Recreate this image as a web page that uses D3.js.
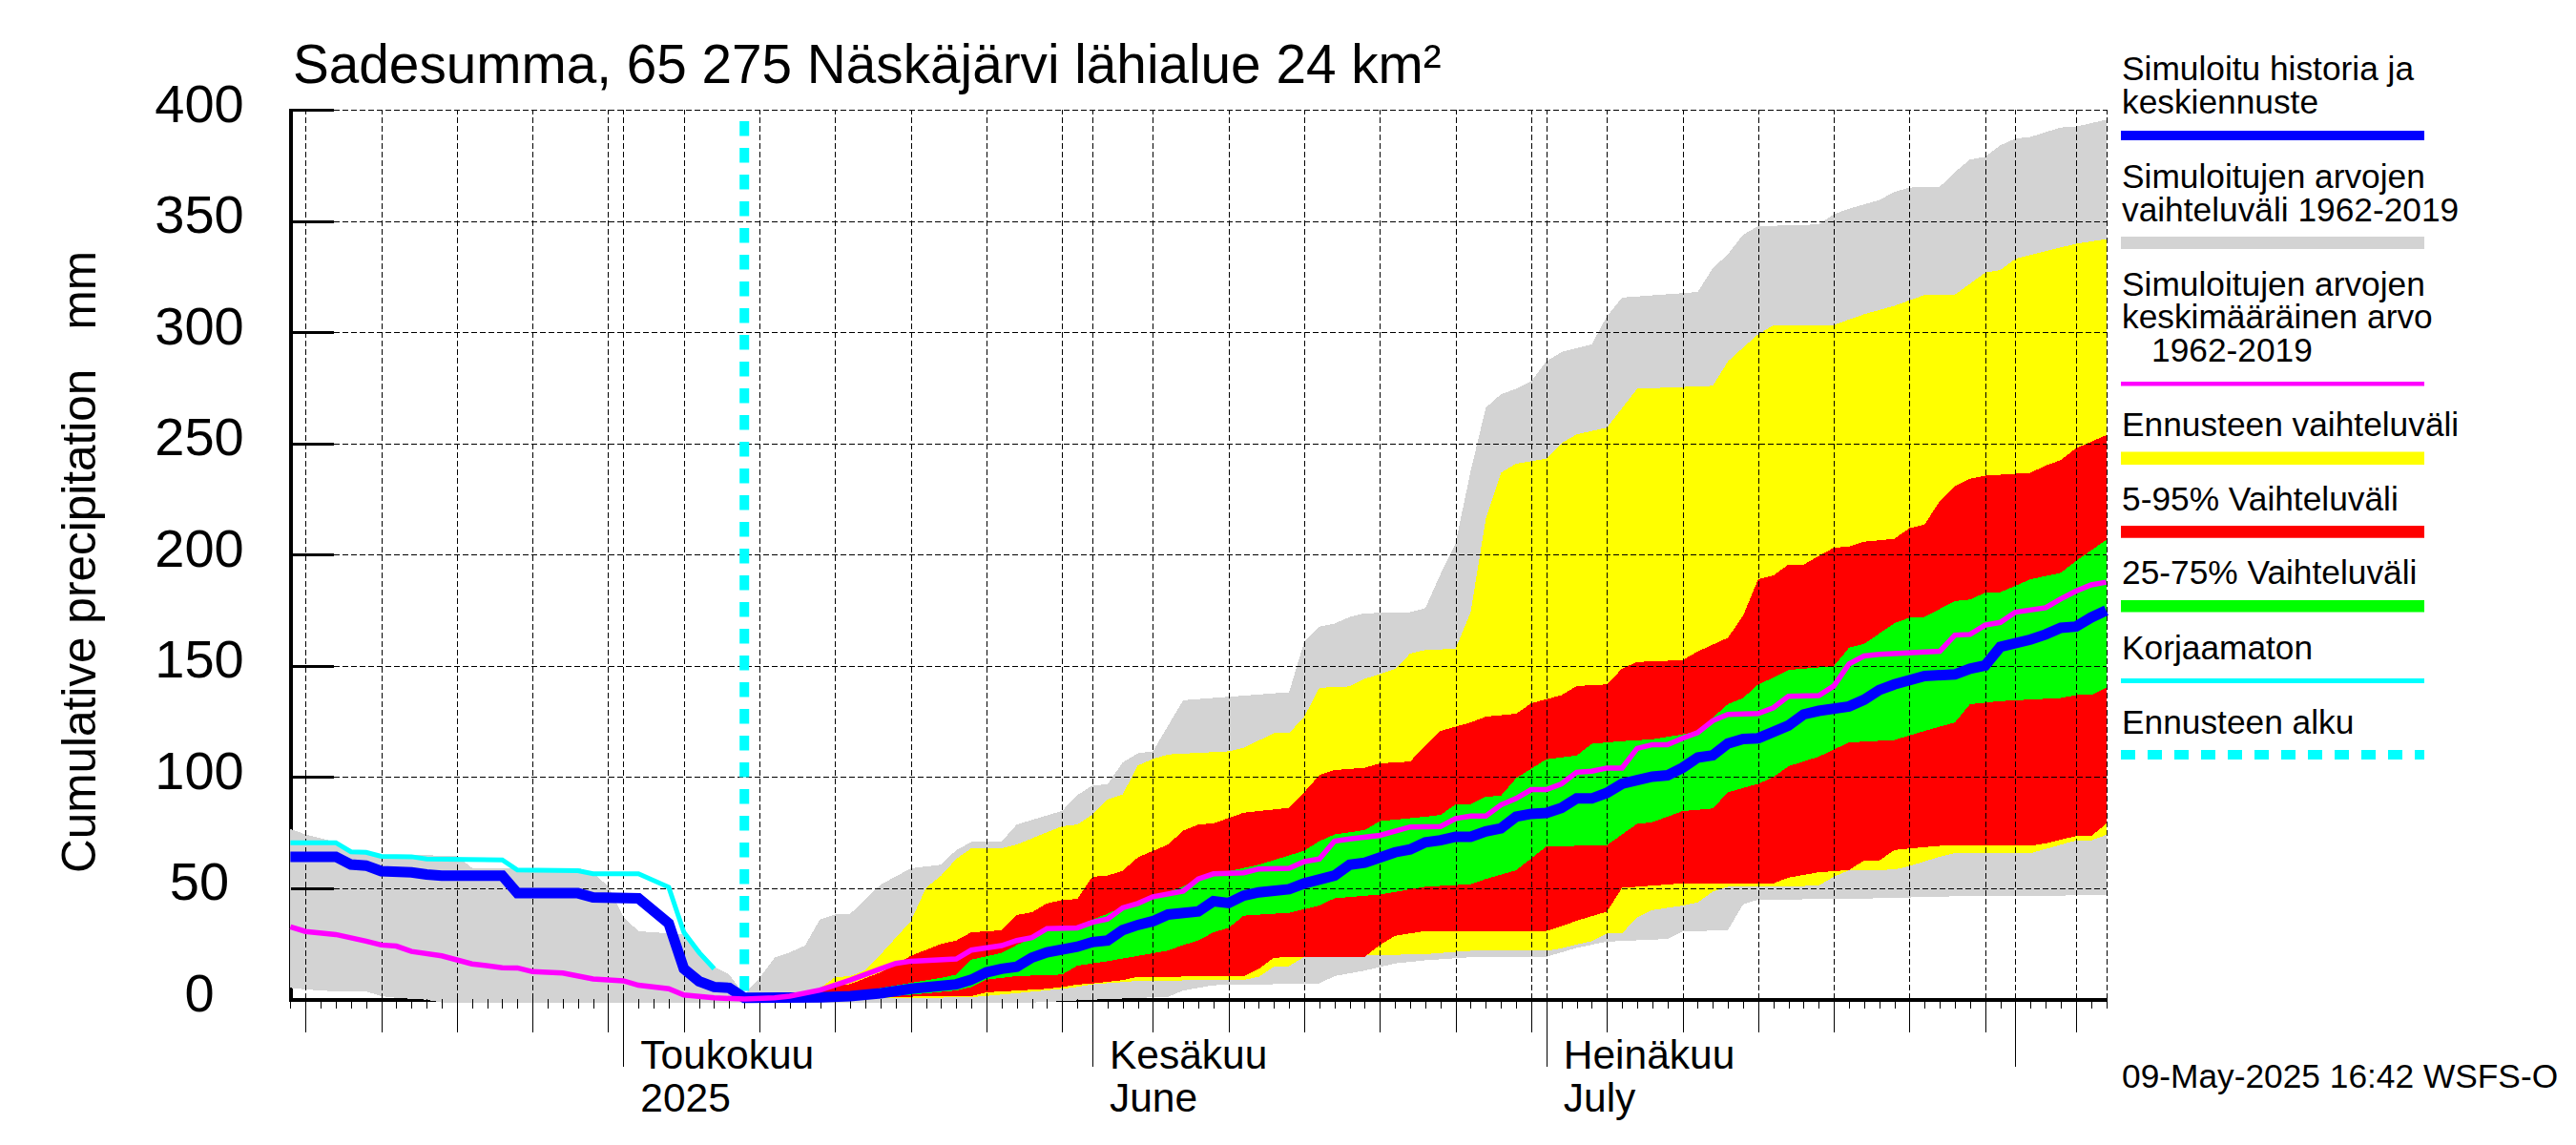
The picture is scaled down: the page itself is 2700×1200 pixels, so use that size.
<!DOCTYPE html>
<html>
<head>
<meta charset="utf-8">
<script src="https://cdn.jsdelivr.net/npm/d3@7"></script>
<style>
	html, body { margin: 0; padding: 0; background: #fff; }
	svg { display: block; }
	text { font-family: "Liberation Sans", Arial, sans-serif; fill: #000; }
</style>
</head>
<body>
<div></div>
<script>
// All series are [day, mm], day = days since startDate
const startDate = new Date(Date.UTC(2025, 3, 9));
const endDay = 120;
const forecastDay = 30;
const yTicks = [0, 50, 100, 150, 200, 250, 300, 350, 400];
const monthDays = [22, 53, 83, 114];
const monthLabels = [['Toukokuu', '2025'], ['Kesäkuu', 'June'], ['Heinäkuu', 'July']];

const greyTop = [[0,76.5],[1,74],[3,70.6],[4,67],[5,66.6],[6,65],[11,64.4],[12,59],[19,59],[20,57],[21,50.6],[22,37],[23,30.5],[26,29],[27,22.7],[28,14.5],[29,11],[30,2],[31,9.5],[32,18.6],[33,21],[34,24],[35,35.8],[36,38],[37,38.3],[38,45],[39,51.4],[41,58.8],[43,60.4],[44,67],[45,70.6],[47,70.8],[48,78.5],[51,84.6],[52,91.7],[53,96],[54,96.6],[55,106.4],[56,110.5],[57,111.4],[59,134.4],[66,138],[67,160.6],[68,167.5],[69,168.9],[70,171.8],[71,173.5],[74,174],[75,175.8],[76,191],[77,205],[78,237.5],[79,266],[80,272],[81,274.5],[82,277.8],[83,286.8],[84,291],[86,294.5],[87,307],[88,315.5],[93,318],[94,328.7],[95,335],[96,343.8],[97,347.6],[101,348.4],[102,353],[103,355.5],[105,359.4],[106,363],[107,365],[109,365.3],[110,372],[111,377.6],[112,378.8],[113,384],[114,387],[115,387.8],[117,392],[118,392.4],[120,395.5]];
const greyBottom = [[0,5],[1,4.3],[3,3.4],[5,3.4],[6,1.3],[7,0.5],[9,-0.3],[10,-1.6],[49,-1.6],[53,-0.3],[58,1],[59,3.8],[61,6.2],[68,7],[69,10.3],[71,12.8],[73,16],[75,17.4],[78,18.8],[83,19],[85,23],[87,25.8],[91,27],[92,30.3],[95,31],[96,42.6],[97,44.7],[103,45],[110,46.2],[120,46.7]];
const yellowTop = [[30,0],[33,1.5],[34,2],[35,5],[36,9.8],[37,10.3],[38,13],[39,20],[41,35],[42,50],[43,55.5],[44,63],[45,67.8],[47,67.8],[48,69.5],[51,77.7],[52,78.5],[53,83],[54,89.7],[55,92],[56,105],[57,108],[58,110],[62,111.4],[63,113],[65,119.6],[66,119.6],[67,127],[68,140],[70,140.6],[71,144],[73,148.4],[74,155.4],[75,157],[77,157.5],[78,174],[79,216],[80,236.7],[81,240.8],[83,243],[84,250],[85,254],[87,257],[89,274.5],[94,275.8],[95,286.8],[96,293],[97,299],[98,303],[102,303.2],[104,308],[106,311.8],[108,316.7],[110,316.8],[112,326.7],[113,327.9],[114,333],[116,336.4],[118,339.7],[120,341.8]];
const yellowBottom = [[30,0],[36,0],[45,0.8],[48,2.6],[51,4.6],[52,5.4],[53,6.6],[55,7.6],[56,8.2],[63,8.6],[64,10],[65,14.5],[66,14.8],[67,19],[75,20.2],[78,21.7],[83,21.7],[84,22.8],[85,24.5],[86,26],[87,29.5],[88,29.5],[89,36.8],[90,40],[91,41],[92,42],[93,43.4],[94,48.3],[95,50.5],[98,50.5],[101,51],[102,55],[103,57.9],[106,58.2],[107,59.8],[109,64],[110,65.6],[115,65.6],[118,71.3],[119,71.3],[120,73.8]];
const redTop = [[30,0],[33,0.7],[34,1.5],[35,3],[36,6],[37,6.7],[39,12],[41,19.4],[43,24.8],[44,26.3],[45,30],[47,30.9],[48,37.8],[49,39],[50,43],[51,44.5],[52,45],[53,55],[54,55.5],[55,57.7],[56,63.7],[58,69.5],[59,75.7],[60,78.5],[61,79],[63,83.8],[66,86],[67,93],[68,100.7],[69,103],[71,104],[72,106],[74,106.8],[75,114],[76,120.6],[78,124.4],[79,127],[81,128.3],[82,133],[84,136.7],[85,140.8],[87,141.5],[88,148.6],[89,151.6],[92,152.4],[93,156.3],[95,162.5],[96,172.4],[97,188.8],[98,190.5],[99,195.4],[100,195.4],[102,203],[103,203.5],[104,205.7],[106,207],[107,211.8],[108,213.4],[109,224],[110,230.7],[111,234],[112,235.4],[115,236.7],[116,240],[117,242.4],[118,247.7],[120,253.6]];
const redBottom = [[30,0],[36,0.3],[40,1],[45,1.3],[46,3],[48,3.8],[50,4.6],[51,5.4],[52,6.5],[53,7],[55,8.5],[56,10],[63,10.2],[64,13.6],[65,18.6],[67,19],[71,19],[72,24.3],[73,28.4],[75,30.6],[83,30.6],[84,32.7],[85,35.2],[87,39.3],[88,50],[92,52],[98,52],[99,54.6],[101,57],[103,58],[104,62.3],[105,62.3],[106,67],[107,67.7],[109,68.9],[115,68.9],[116,70],[118,73.3],[119,73.3],[120,78.8]];
const greenTop = [[30,0],[33,0.5],[37,2.5],[39,5],[43,9.5],[44,11],[45,17.7],[47,20.7],[48,24.3],[49,27.6],[50,32],[52,33],[53,35.8],[54,38.3],[55,41.6],[56,43],[57,45.7],[59,50.6],[60,54],[61,56.3],[62,57.5],[64,60.4],[66,64.6],[67,66.7],[68,71],[69,74],[71,76],[72,80],[75,82],[76,82.8],[77,87.4],[78,87.7],[79,91],[80,91.4],[81,99.3],[83,107.8],[85,109.5],[86,114.8],[88,116],[90,116.8],[92,119],[93,120.6],[95,132.6],[96,135.4],[97,141.5],[98,144.5],[99,148],[102,149.7],[103,158],[104,159.7],[106,169],[107,171.5],[108,171.9],[110,179],[111,179.7],[112,182.7],[113,183],[115,188.8],[117,191.7],[118,197],[120,206.5]];
const greenBottom = [[30,0],[36,0.5],[40,1.3],[44,3.8],[45,5.4],[46,8.7],[48,10.3],[51,11],[52,15],[54,17],[58,21.8],[59,24.3],[60,26.3],[61,30],[62,32],[63,37.5],[66,38.8],[68,42],[69,45.3],[72,47],[75,50.5],[78,51.6],[79,54],[81,57.9],[83,68.6],[87,69.2],[89,78.8],[90,79.5],[91,82],[92,84.5],[94,85.7],[95,93],[97,96.8],[98,99.8],[99,104.7],[101,109],[103,115.4],[106,116.5],[108,120.6],[110,124.4],[111,132.6],[113,134],[117,135.4],[118,136.7],[119,136.7],[120,140]];
const blueLine = [[0,64],[3,64],[4,60.5],[5,60],[6,57.5],[8,57],[9,56],[10,55.5],[14,55.5],[15,47.6],[19,47.6],[20,45.7],[23,45.3],[25,34],[26,13.6],[27,8],[28,5.4],[29,5],[30,0.5],[35,0.8],[37,1.3],[39,2.6],[41,4.6],[44,6.6],[45,8.7],[46,12],[47,13.6],[48,14.5],[49,18.6],[50,21],[52,23.5],[53,25.6],[54,26.3],[55,31],[56,33.3],[57,35],[58,38],[60,39.4],[61,44],[62,43.2],[63,46.5],[64,48],[66,49.4],[67,52],[69,55.5],[70,60.4],[71,61.3],[73,66],[74,67.3],[75,70.5],[76,71.4],[77,73],[78,73],[79,75.4],[80,76.8],[81,82],[82,83.3],[83,83.7],[84,86],[85,90.2],[86,90.2],[87,92.7],[88,96.8],[89,98.4],[90,100],[91,100.6],[92,104],[93,108.6],[94,109.6],[95,114.9],[96,117],[97,117.3],[99,123],[100,128],[101,129.6],[103,131.6],[104,134.6],[105,139],[106,141.5],[108,145.3],[110,146],[111,148.6],[112,150],[113,158.4],[115,161.7],[116,164],[117,167],[118,167.5],[119,171.6],[120,174.8]];
const magentaLine = [[0,32.5],[1,30.4],[3,29],[5,26],[6,24.3],[7,23.8],[8,21.4],[10,19.4],[12,15.8],[14,14.1],[15,14],[16,12.3],[18,11.7],[20,9],[22,8.2],[23,6.2],[25,4.6],[26,1.8],[28,0.5],[30,0],[32,0.5],[33,1.3],[35,4],[37,8.5],[39,13.6],[40,16],[41,17],[44,18],[45,22],[47,24],[48,26.3],[49,27.6],[50,31.7],[52,32],[53,34.5],[54,36],[55,41],[56,43],[57,46],[59,48.5],[60,54],[61,56.3],[63,56.8],[64,58.5],[66,58.8],[67,61.8],[68,63],[69,71],[70,72],[72,73.6],[74,77.4],[76,77.6],[77,81.2],[78,82.3],[79,82.3],[80,87.3],[81,90.2],[82,94.2],[83,94.2],[84,96.8],[85,102],[86,102.5],[87,103.9],[88,103.9],[89,112.7],[90,114.4],[91,114.4],[92,117.3],[93,119.8],[94,125.2],[95,128],[97,128.4],[98,131],[99,136.2],[101,136.5],[102,140.8],[103,150.7],[104,154.3],[105,155],[109,156.4],[110,163.7],[111,164],[112,168.2],[113,169.4],[114,174],[116,176],[117,180],[118,183.5],[119,186.3],[120,187.5]];
const cyanLine = [[0,70.3],[3,70.3],[4,66.2],[5,66],[6,64.2],[8,64],[9,63],[14,62.6],[15,58],[19,57.7],[20,56.3],[23,56.3],[25,50.3],[26,30],[27,21],[28,13.6]];

const legendLabels = ['Simuloitu historia ja', 'keskiennuste', 'Simuloitujen arvojen', 'vaihteluväli 1962-2019', 'Simuloitujen arvojen', 'keskimääräinen arvo', '1962-2019', 'Ennusteen vaihteluväli', '5-95% Vaihteluväli', '25-75% Vaihteluväli', 'Korjaamaton', 'Ennusteen alku'];
const legendColors = ['#0000ff', '#d3d3d3', '#ff00ff', '#ffff00', '#ff0000', '#00ff00', '#00ffff', '#00ffff'];

const width = 2700,
	height = 1200;
const plotLeft = 304.4,
	plotRight = 2207.6,
	plotTop = 115,
	plotBottom = 1047;

const svg = d3.select('div').append('svg')
	.attr('width', width)
	.attr('height', height);

const dayDate = d => d3.utcDay.offset(startDate, d);
const x = d3.scaleUtc().domain([startDate, dayDate(endDay)]).range([plotLeft, plotRight]);
const y = d3.scaleLinear().domain([0, 400]).range([plotBottom, plotTop]);
const line = d3.line().x(d => x(dayDate(d[0]))).y(d => y(d[1]));

const allDays = d3.range(0, endDay + 1);
const monthDates = monthDays.map(dayDate);
const fiveDates = allDays.map(dayDate).filter(d => {
	const n = d.getUTCDate();
	return n % 5 == 0 && n != 31;
});

// axis lines go under the bands, the grey band covers them in the reference
svg.append('line').attr('x1', 305).attr('x2', 305).attr('y1', plotTop - 1).attr('y2', plotBottom + 1)
	.attr('stroke', '#000').attr('stroke-width', 4).attr('shape-rendering', 'crispEdges');
svg.append('line').attr('x1', 303).attr('x2', plotRight).attr('y1', plotBottom + 1).attr('y2', plotBottom + 1)
	.attr('stroke', '#000').attr('stroke-width', 4).attr('shape-rendering', 'crispEdges');

function band(upper, lower, color) {
	svg.append('path')
		.attr('d', line(upper.concat(lower.slice().reverse())) + 'Z')
		.attr('fill', color)
		.attr('shape-rendering', 'crispEdges');
}
band(greyTop, greyBottom, '#d3d3d3');
band(yellowTop, yellowBottom, '#ffff00');
band(redTop, redBottom, '#ff0000');
band(greenTop, greenBottom, '#00ff00');

// grid
function gridStyle(g) {
	g.select('.domain').remove();
	g.selectAll('line')
		.attr('stroke', '#000')
		.attr('stroke-width', 1)
		.attr('stroke-dasharray', '6,3')
		.attr('shape-rendering', 'crispEdges');
}
const gridX = d3.axisBottom(x)
	.tickValues(fiveDates.concat(monthDates, [dayDate(endDay)]))
	.tickSize(-(plotBottom - plotTop))
	.tickFormat('');
svg.append('g').attr('transform', `translate(0,${plotBottom})`).call(gridX).call(gridStyle);

const gridY = d3.axisRight(y)
	.tickValues(yTicks.slice(1))
	.tickSize(plotRight - 350)
	.tickFormat('');
svg.append('g').attr('transform', 'translate(350,0)').call(gridY).call(gridStyle);

// y axis, ticks point into the plot, labels are centred
const yAxis = d3.axisLeft(y)
	.tickValues(yTicks)
	.tickSize(-45)
	.tickPadding(0);
const ay = svg.append('g').attr('transform', 'translate(305,0)').call(yAxis);
ay.select('.domain').remove();
ay.selectAll('line').attr('stroke', '#000').attr('stroke-width', 3).attr('shape-rendering', 'crispEdges');
ay.selectAll('text')
	.attr('x', -96)
	.attr('dy', 12)
	.attr('text-anchor', 'middle')
	.style('font-family', '"Liberation Sans"')
	.style('font-size', '56px');

// x axis, three tick lengths
function xTicks(values, size) {
	const a = svg.append('g').attr('transform', `translate(0,${plotBottom})`)
		.call(d3.axisBottom(x).tickValues(values).tickSize(size).tickFormat(''));
	a.select('.domain').remove();
	a.selectAll('line').attr('stroke', '#000').attr('stroke-width', 1).attr('shape-rendering', 'crispEdges');
}
xTicks(allDays.map(dayDate), 10);
xTicks(fiveDates, 35);
xTicks(monthDates, 71);

monthLabels.forEach((m, i) => {
	const lx = x(monthDates[i]) + 18;
	svg.append('text').attr('x', lx).attr('y', 1120).attr('font-size', 42.5).text(m[0]);
	svg.append('text').attr('x', lx).attr('y', 1165).attr('font-size', 42.5).text(m[1]);
});

// forecast start
svg.append('line')
	.attr('x1', x(dayDate(forecastDay))).attr('x2', x(dayDate(forecastDay)))
	.attr('y1', 127).attr('y2', plotBottom)
	.attr('stroke', '#00ffff').attr('stroke-width', 10).attr('stroke-dasharray', '15.5,12.5');

function curve(data, color, w) {
	svg.append('path')
		.attr('d', line(data))
		.attr('fill', 'none')
		.attr('stroke', color)
		.attr('stroke-width', w);
}
curve(cyanLine, '#00ffff', 5);
curve(blueLine, '#0000ff', 11);
curve(magentaLine, '#ff00ff', 5.5);

// titles
svg.append('text').attr('x', 307).attr('y', 87).attr('font-size', 56.7)
	.text('Sadesumma, 65 275 Näskäjärvi lähialue 24 km²');
svg.append('text')
	.attr('transform', 'translate(100,589) rotate(-90)')
	.attr('text-anchor', 'middle')
	.attr('font-size', 49.5)
	.style('white-space', 'pre')
	.text('Cumulative precipitation   mm');

// legend
const legendX = 2224;
const labelBase = [84, 118.6, 197, 231.5, 310, 344.4, 379, 457.3, 534.6, 612.2, 691, 768.5];
const barTop = [137, 248, 400, 473.4, 551, 629, 711, 786];
const barBottom = [147, 261, 404.5, 487, 563.7, 641.6, 716, 796];

svg.selectAll('.label')
	.data(legendLabels)
	.enter()
	.append('text')
	.attr('class', 'label')
	.attr('x', (d, i) => i == 6 ? legendX + 31 : legendX)
	.attr('y', (d, i) => labelBase[i])
	.attr('font-size', 35.3)
	.text(d => d);

svg.selectAll('.swatch')
	.data(legendColors)
	.enter()
	.append('line')
	.attr('class', 'swatch')
	.attr('x1', 2223)
	.attr('x2', 2541)
	.attr('y1', (d, i) => (barTop[i] + barBottom[i]) / 2)
	.attr('y2', (d, i) => (barTop[i] + barBottom[i]) / 2)
	.attr('stroke', d => d)
	.attr('stroke-width', (d, i) => barBottom[i] - barTop[i])
	.attr('stroke-dasharray', (d, i) => i == 7 ? '15,13' : null);

svg.append('text').attr('x', legendX).attr('y', 1140).attr('font-size', 35.3)
	.text('09-May-2025 16:42 WSFS-O');
</script>
</body>
</html>
